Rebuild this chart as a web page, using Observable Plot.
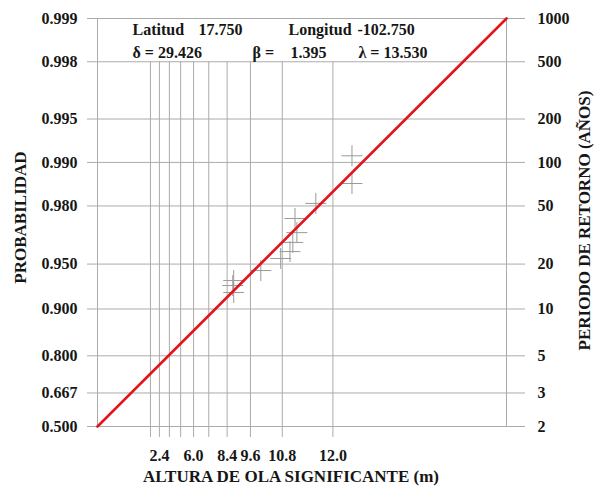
<!DOCTYPE html>
<html>
<head>
<meta charset="utf-8">
<script src="https://cdn.jsdelivr.net/npm/d3@7"></script>
<script src="https://cdn.jsdelivr.net/npm/@observablehq/plot@0.6"></script>
<style>
  html, body { margin: 0; padding: 0; background: #fff; }
  #chart { width: 597px; height: 486px; }
</style>
</head>
<body>
<div id="chart"></div>
<script>
// ---- fit parameters shown on the chart ----
const latitud = "17.750";
const longitud = "-102.750";
const delta = "29.426";
const beta = "1.395";
const lambda = "13.530";
const LAMBDA = 13.530;

// ---- axis tick values ----
const probTicks = [0.500, 0.667, 0.800, 0.900, 0.950, 0.980, 0.990, 0.995, 0.998, 0.999];
const probLabels = ["0.500", "0.667", "0.800", "0.900", "0.950", "0.980", "0.990", "0.995", "0.998", "0.999"];
const returnLabels = ["2", "3", "5", "10", "20", "50", "100", "200", "500", "1000"];
const gridHeights = [1.2, 2.4, 3.6, 4.8, 6.0, 7.2, 8.4, 9.6, 10.8, 12.0];
const labeledHeights = [2.4, 6.0, 8.4, 9.6, 10.8, 12.0];

// ---- observed points (wave height m, non-exceedance probability) ----
const obsHeight = [12.30, 12.30, 11.67, 11.17, 11.22, 11.11, 11.03, 10.75, 10.04, 8.77, 8.72, 8.77];
const obsProb   = [0.9910, 0.9860, 0.9808, 0.9756, 0.9695, 0.9644, 0.9589, 0.9542, 0.9447, 0.9354, 0.9302, 0.9223];

// ---- fitted line end points ----
const fitHeight = [-9.07, 13.32];
const fitProb = [0.500, 0.999];

// probability-paper transforms
const hu = (h) => Math.log(LAMBDA - h);
const pu = (p) => Math.log(-Math.log(p));

const points = obsHeight.map((h, i) => ({h, p: obsProb[i]}));
const fit = fitHeight.map((h, i) => ({h, p: fitProb[i]}));

const xLabel = new Map(gridHeights.map(h => [hu(h), labeledHeights.includes(h) ? h.toFixed(1) : ""]));
const yLeft = new Map(probTicks.map((p, i) => [pu(p), probLabels[i]]));
const yRight = new Map(probTicks.map((p, i) => [pu(p), returnLabels[i]]));

const GRID = "#ababab";
const INK = "#161616";
const FONT = "'Liberation Serif', 'Times New Roman', serif";

const annotations = [
  {t: "Latitud", x: 132, y: 29},
  {t: latitud, x: 198, y: 29},
  {t: "Longitud", x: 288, y: 29},
  {t: longitud, x: 357, y: 29},
  {t: "δ = " + delta, x: 132, y: 52},
  {t: "β =", x: 252, y: 52},
  {t: beta, x: 290, y: 52},
  {t: "λ = " + lambda, x: 358, y: 52}
];

const mL = 97, mT = 18;

const chart = Plot.plot({
  width: 597,
  height: 486,
  marginLeft: mL,
  marginRight: 91,
  marginTop: mT,
  marginBottom: 60,
  style: {fontFamily: FONT, fontSize: "16px", fontWeight: "bold", color: INK, background: "#fff"},
  x: {type: "linear", domain: [hu(fitHeight[0]), hu(fitHeight[1])], axis: null},
  y: {type: "linear", domain: [pu(fitProb[0]), pu(fitProb[1])], axis: null},
  marks: [
    Plot.ruleY(probTicks, {y: pu, stroke: GRID, strokeWidth: 1, insetLeft: -10, insetRight: -19}),
    Plot.ruleX(gridHeights, {x: hu, y1: pu(0.998), y2: pu(0.500), stroke: GRID, strokeWidth: 1}),
    Plot.frame({stroke: GRID, strokeWidth: 1}),
    Plot.axisX(gridHeights.map(hu), {
      anchor: "bottom", tickSize: 11, tickPadding: 12, stroke: GRID, fill: INK,
      tickFormat: (u) => xLabel.get(u) ?? "", label: null,
      fontSize: 16, fontWeight: "bold", fontFamily: FONT
    }),
    Plot.axisY(probTicks.map(pu), {
      anchor: "left", tickSize: 0, tickPadding: 20, fill: INK,
      tickFormat: (u) => yLeft.get(u) ?? "", label: null,
      fontSize: 16, fontWeight: "bold", fontFamily: FONT
    }),
    Plot.axisY(probTicks.map(pu), {
      anchor: "right", tickSize: 0, tickPadding: 31, fill: INK,
      tickFormat: (u) => yRight.get(u) ?? "", label: null,
      fontSize: 16, fontWeight: "bold", fontFamily: FONT
    }),
    Plot.dot(points, {x: d => hu(d.h), y: d => pu(d.p), symbol: "plus", r: 6.8, stroke: "#9a9a9a", strokeWidth: 1}),
    Plot.line(fit, {x: d => hu(d.h), y: d => pu(d.p), stroke: "#e2141c", strokeWidth: 2.6}),
    ...annotations.map(a => Plot.text([a.t], {
      frameAnchor: "top-left", textAnchor: "start", lineAnchor: "middle",
      dx: a.x - mL, dy: a.y - mT,
      fontSize: 16, fontWeight: "bold", fontFamily: FONT, fill: INK
    })),
    Plot.text(["ALTURA DE OLA SIGNIFICANTE (m)"], {
      frameAnchor: "bottom", textAnchor: "middle", lineAnchor: "middle",
      dx: -11, dy: 50, fontSize: 17, fontWeight: "bold", fontFamily: FONT, fill: INK
    }),
    Plot.text(["PROBABILIDAD"], {
      frameAnchor: "left", textAnchor: "middle", lineAnchor: "middle", rotate: -90,
      dx: -77, dy: -5, fontSize: 17, fontWeight: "bold", fontFamily: FONT, fill: INK
    }),
    Plot.text(["PERIODO DE RETORNO (AÑOS)"], {
      frameAnchor: "right", textAnchor: "middle", lineAnchor: "middle", rotate: -90,
      dx: 78, dy: -2, fontSize: 17, fontWeight: "bold", fontFamily: FONT, fill: INK
    })
  ]
});

document.getElementById("chart").appendChild(chart);
</script>
</body>
</html>
